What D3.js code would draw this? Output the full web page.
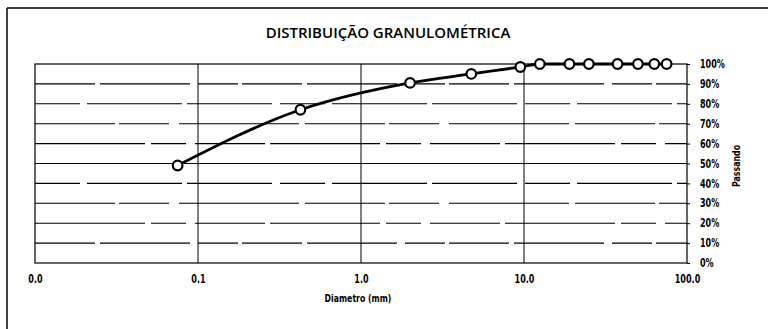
<!DOCTYPE html>
<html>
<head>
<meta charset="utf-8">
<script src="https://cdn.jsdelivr.net/npm/d3@7"></script>
<style>
  html, body { margin: 0; padding: 0; background: #fff; }
  svg { display: block; }
  text { font-family: "DejaVu Sans", sans-serif; fill: #000; }
  text.title { font-family: "Open Sans", "DejaVu Sans", sans-serif; }
</style>
</head>
<body>
<svg id="chart" width="768" height="329"></svg>
<script>
// Sieve openings (mm) and cumulative percent passing
const diameters = [0.075, 0.425, 2.0, 4.75, 9.5, 12.5, 19.0, 25.0, 37.5, 50.0, 63.0, 75.0];
const passing   = [49, 77, 90.5, 95, 98.5, 100, 100, 100, 100, 100, 100, 100];

const xTickValues = [0.01, 0.1, 1, 10, 100];
const xTickLabels = ["0.0", "0.1", "1.0", "10.0", "100.0"];
const yTickValues = [0, 10, 20, 30, 40, 50, 60, 70, 80, 90, 100];

const titleText = "DISTRIBUIÇÃO GRANULOMÉTRICA";
const xTitle = "Diametro (mm)";
const yTitle = "Passando";

const svg = d3.select("#chart");
const plot = { left: 35, right: 687, top: 64, bottom: 263 };

const x = d3.scaleLog().domain([0.01, 100]).range([plot.left, plot.right]);
const y = d3.scaleLinear().domain([0, 100]).range([plot.bottom, plot.top]);

// Squeeze text horizontally to get a condensed look
function narrow(sel, factor) {
  sel.each(function () {
    const w = this.getComputedTextLength();
    d3.select(this).attr("textLength", w * factor).attr("lengthAdjust", "spacingAndGlyphs");
  });
}

// Outer chart frame (top and left edges)
svg.append("line").attr("x1", 7).attr("x2", 768).attr("y1", 8).attr("y2", 8)
  .attr("stroke", "#000").attr("stroke-width", 1.5);
svg.append("line").attr("x1", 7).attr("x2", 7).attr("y1", 8).attr("y2", 329)
  .attr("stroke", "#000").attr("stroke-width", 1.5);

// Title
svg.append("text").attr("class", "title").attr("x", 388).attr("y", 38).attr("text-anchor", "middle")
  .style("font-size", "15px").style("font-weight", "600").text(titleText);

// Horizontal gridlines
const dashes = ["60,5,90,8,40,4", "110,6,35,9,70,5", "80,4,50,10,120,6", "45,7,95,5,85,8"];
svg.append("g").selectAll("line").data(yTickValues.filter(v => v > 0 && v < 100)).join("line")
  .attr("x1", plot.left).attr("x2", plot.right)
  .attr("y1", d => y(d)).attr("y2", d => y(d))
  .attr("stroke", "#000").attr("stroke-width", 1.1)
  .attr("stroke-dasharray", (d, i) => d === 50 ? null : dashes[i % dashes.length]);

// Vertical decade gridlines
svg.append("g").selectAll("line").data(xTickValues.slice(1, -1)).join("line")
  .attr("x1", d => x(d)).attr("x2", d => x(d))
  .attr("y1", plot.top).attr("y2", plot.bottom)
  .attr("stroke", "#000").attr("stroke-width", 1);

// Plot frame
svg.append("rect").attr("x", plot.left).attr("y", plot.top)
  .attr("width", plot.right - plot.left).attr("height", plot.bottom - plot.top)
  .attr("fill", "none").attr("stroke", "#000").attr("stroke-width", 1.2);

// Right-hand percent axis
const yAxis = d3.axisRight(y).tickValues(yTickValues).tickSize(3)
  .tickFormat(d => d + "%");
const gy = svg.append("g").attr("transform", `translate(${plot.right},0)`).call(yAxis);
gy.select(".domain").remove();
gy.selectAll("line").attr("stroke", "#000");
gy.attr("font-family", null).attr("font-size", null);
gy.selectAll("text").attr("x", 13).style("font-size", "11.5px").style("font-weight", "bold")
  .call(narrow, 0.7);

// Bottom diameter axis
const xAxis = d3.axisBottom(x).tickValues(xTickValues).tickSize(0)
  .tickFormat((d, i) => xTickLabels[i]);
const gx = svg.append("g").attr("transform", `translate(0,${plot.bottom})`).call(xAxis);
gx.select(".domain").remove();
gx.attr("font-family", null).attr("font-size", null);
gx.selectAll("text").attr("y", 12).style("font-size", "11.5px").style("font-weight", "bold")
  .call(narrow, 0.7);

// Axis titles
svg.append("text").attr("x", 358).attr("y", 302).attr("text-anchor", "middle")
  .style("font-size", "10px").style("font-weight", "bold").text(xTitle).call(narrow, 0.78);
svg.append("text").attr("transform", `translate(740,166) rotate(-90)`)
  .attr("text-anchor", "middle").style("font-size", "10.5px").style("font-weight", "bold")
  .text(yTitle).call(narrow, 0.75);

// Gradation curve
const pts = diameters.map((d, i) => [x(d), y(passing[i])]);
svg.append("path").datum(pts)
  .attr("d", d3.line().curve(d3.curveMonotoneX))
  .attr("fill", "none").attr("stroke", "#000").attr("stroke-width", 2.8);

svg.append("g").selectAll("circle").data(pts).join("circle")
  .attr("cx", d => d[0]).attr("cy", d => d[1]).attr("r", 4.8)
  .attr("fill", "#fff").attr("stroke", "#000").attr("stroke-width", 2.2);
</script>
</body>
</html>
